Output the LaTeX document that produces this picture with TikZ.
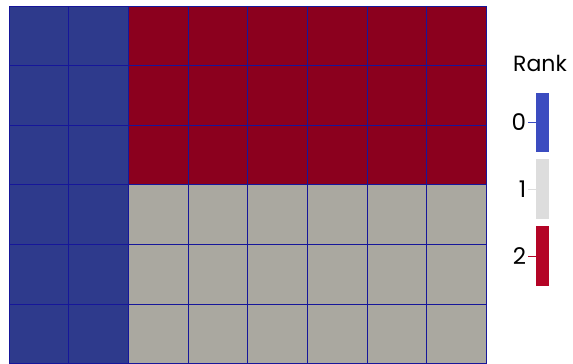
\documentclass[tikz,border=0pt]{standalone}
\usepackage{fontspec}
\setmainfont{Poppins}
\definecolor{rankzero}{HTML}{2E3A8C}
\definecolor{rankone}{HTML}{AAA8A0}
\definecolor{ranktwo}{HTML}{8B001E}
\definecolor{meshline}{HTML}{16169A}
\definecolor{barzero}{HTML}{3B4CC0}
\definecolor{barone}{HTML}{DDDDDD}
\definecolor{bartwo}{HTML}{B40426}
\tikzset{
 gridln/.style={draw=meshline,line width=0.9pt},
 barbox/.style={rectangle,inner sep=0pt,minimum width=12.5pt,minimum height=59.5pt},
 tickln/.style={line width=0.6pt},
 ticklbl/.style={anchor=east,inner sep=1.5pt,font=\fontsize{23}{23}\selectfont},
 titlelbl/.style={anchor=base west,inner sep=0pt,font=\fontsize{22}{22}\selectfont}}

\begin{document}
\begin{tikzpicture}[x=1pt,y=-1pt]
 \useasboundingbox (0,0) rectangle (573,364);
 \fill[white] (0,0) rectangle (573,364);
 % partitioned mesh
 \fill[rankzero] (9,6) rectangle (128.4,363.6);
 \fill[ranktwo] (128.4,6) rectangle (486.6,184.8);
 \fill[rankone] (128.4,184.8) rectangle (486.6,363.6);
 \foreach \i in {0,...,8}
  \draw[gridln] ({9+59.7*\i},6) -- ({9+59.7*\i},363.6);
 \foreach \j in {0,...,6}
  \draw[gridln] (9,{6+59.6*\j}) -- (486.6,{6+59.6*\j});
 % legend
 \node[titlelbl] (title) at (513,71.7) {Rank};
 \node[barbox,fill=barzero] (b0) at (542.3,122.5) {};
 \node[barbox,fill=barone] (b1) at (542.3,189) {};
 \node[barbox,fill=bartwo] (b2) at (542.3,256) {};
 \draw[tickln,barzero] (b0.west) -- ++(-8,0) coordinate (t0);
 \draw[tickln,barone] (b1.west) -- ++(-8,0) coordinate (t1);
 \draw[tickln,bartwo] (b2.west) -- ++(-8,0) coordinate (t2);
 \node[ticklbl] (l0) at (t0) {0};
 \node[ticklbl] (l1) at (t1) {1};
 \node[ticklbl] (l2) at (t2) {2};
\end{tikzpicture}
\end{document}
